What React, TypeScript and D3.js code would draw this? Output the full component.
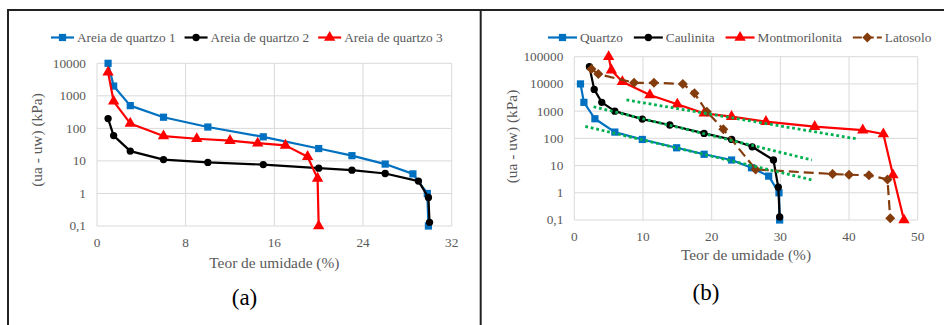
import React, { useEffect, useRef } from "react";
import * as d3 from "d3";

// ---- panel (a) data: moisture (%) vs suction (kPa)
const areia1 = [[1, 10000], [1.5, 2000], [3, 500], [6, 220], [10, 110], [15, 55], [20, 24], [23, 14.5], [26, 8], [28.5, 4], [29.8, 1], [29.9, 0.1]];
const areia2 = [[1, 200], [1.5, 60], [3, 20], [6, 11], [10, 9], [15, 7.7], [20, 6], [23, 5.2], [26, 4.1], [29, 2.4], [29.9, 0.75], [30, 0.13]];
const areia3 = [[1, 5300], [1.5, 680], [3, 142], [6, 58], [9, 48], [12, 42], [14.5, 35], [17, 30], [19, 13.5], [19.9, 2.9], [20, 0.1]];
const namesA = ["Areia de quartzo 1", "Areia de quartzo 2", "Areia de quartzo 3"];
const xTicksA = [0, 8, 16, 24, 32];
const yTicksA = [0.1, 1, 10, 100, 1000, 10000];

// ---- panel (b) data
const quartzo = [[0.9, 10000], [1.4, 2100], [3, 525], [5.9, 170], [9.9, 91], [14.9, 45], [18.9, 26], [22.9, 16], [25.8, 8.3], [28.3, 4.1], [29.8, 1], [29.9, 0.1]];
const caulinita = [[2.2, 43000], [2.9, 6300], [4, 2100], [5.9, 1000], [9.9, 510], [13.9, 310], [18.9, 152], [22.9, 91], [25.9, 49], [29, 16], [29.7, 1.6], [29.9, 0.13]];
const montmorilonita = [[5, 100000], [5.4, 32000], [7, 12000], [11, 3900], [15, 1780], [18.9, 830], [22.9, 630], [27.9, 410], [35, 270], [42, 200], [45, 145], [46.4, 4.5], [48, 0.1]];
const latosolo = [[2.5, 35000], [3.5, 23000], [8.7, 11000], [11.6, 11000], [15.8, 10000], [17.5, 4500], [19.3, 950], [21.7, 215], [26.4, 7.2], [37.6, 4.9], [40, 4.6], [42.9, 4.4], [45.6, 3.1], [46, 0.115]];
// exponential trend lines (start / end)
const trendMont = [[7.6, 2570], [41.3, 94]];
const trendCaul = [[2.8, 1450], [34.6, 16]];
const trendQuartzo = [[1.6, 275], [34.8, 2.9]];
const namesB = ["Quartzo", "Caulinita", "Montmorilonita", "Latosolo"];
const xTicksB = [0, 10, 20, 30, 40, 50];
const yTicksB = [0.1, 1, 10, 100, 1000, 10000, 100000];

const FONT = "'Liberation Serif', 'Times New Roman', serif";
const GREY = "#595959";

function markerPath(type: string) {
  if (type === "square") return d3.symbol(d3.symbolSquare, 52)();
  if (type === "circle") return d3.symbol(d3.symbolCircle, 42)();
  if (type === "triangle") return d3.symbol(d3.symbolTriangle, 56)();
  return "M0,-5L5,0L0,5L-5,0Z"; // diamond
}

function fmt(v: number) {
  return v < 1 ? String(v).replace(".", ",") : String(v);
}

function drawPanel(svg: any, cfg: any) {
  const x = d3.scaleLinear().domain(cfg.xDomain).range(cfg.xRange);
  const y = d3.scaleLog().domain(cfg.yDomain).range(cfg.yRange);
  const g = svg.append("g").style("font-family", FONT);

  // grid
  g.selectAll(".vg").data(cfg.xTicks).join("line")
    .attr("x1", d => x(d)).attr("x2", d => x(d))
    .attr("y1", cfg.yRange[0]).attr("y2", cfg.yRange[1])
    .attr("stroke", "#d9d9d9").attr("stroke-width", 1);
  g.selectAll(".hg").data(cfg.yTicks).join("line")
    .attr("x1", cfg.xRange[0]).attr("x2", cfg.xRange[1])
    .attr("y1", d => y(d)).attr("y2", d => y(d))
    .attr("stroke", "#d9d9d9").attr("stroke-width", 1);

  // tick labels
  g.selectAll(".xl").data(cfg.xTicks).join("text")
    .attr("x", d => x(d)).attr("y", cfg.yRange[0] + 21)
    .attr("text-anchor", "middle")
    .style("font-size", "13.3px").attr("fill", GREY)
    .text(d => d);
  g.selectAll(".yl").data(cfg.yTicks).join("text")
    .attr("x", cfg.xRange[0] - 11).attr("y", d => y(d)).attr("dy", "0.33em")
    .attr("text-anchor", "end")
    .style("font-size", "13.3px").attr("fill", GREY)
    .text(d => fmt(d));

  // axis titles
  g.append("text")
    .attr("x", (cfg.xRange[0] + cfg.xRange[1]) / 2).attr("y", cfg.xTitleY)
    .attr("text-anchor", "middle")
    .style("font-size", "15.4px").attr("fill", GREY)
    .text("Teor de umidade (%)");
  g.append("text")
    .attr("transform", `translate(${cfg.yTitleX},${cfg.yTitleY}) rotate(-90)`)
    .attr("text-anchor", "middle").attr("dy", "0.33em")
    .style("font-size", "15.4px").attr("fill", GREY)
    .text("(ua - uw) (kPa)");

  // caption
  g.append("text")
    .attr("x", cfg.captionX).attr("y", cfg.captionY)
    .attr("text-anchor", "middle")
    .style("font-size", "23px").attr("fill", "#000")
    .text(cfg.caption);

  const line = d3.line<number[]>().x(d => x(d[0])).y(d => y(d[1]));

  cfg.series.forEach((s: any) => {
    g.append("path").datum(s.data)
      .attr("d", line).attr("fill", "none")
      .attr("stroke", s.color).attr("stroke-width", 2.2)
      .attr("stroke-dasharray", s.dash || null)
      .attr("stroke-linejoin", "round");
    g.selectAll(null).data(s.data).join("path")
      .attr("d", markerPath(s.symbol))
      .attr("transform", d => `translate(${x(d[0])},${y(d[1])})`)
      .attr("fill", s.color);
  });

  (cfg.trends || []).forEach((t: number[][]) => {
    g.append("path").datum(t)
      .attr("d", line).attr("fill", "none")
      .attr("stroke", "#00b050").attr("stroke-width", 2.8)
      .attr("stroke-dasharray", "2.8,2.8");
  });

  // legend
  let lx = cfg.legendX;
  const ly = 37.5;
  cfg.series.forEach((s: any) => {
    const lg = g.append("g");
    lg.append("line")
      .attr("x1", lx).attr("x2", lx + cfg.legendLine)
      .attr("y1", ly).attr("y2", ly)
      .attr("stroke", s.color).attr("stroke-width", 2.2)
      .attr("stroke-dasharray", s.dash ? "9,3" : null);
    lg.append("path")
      .attr("d", markerPath(s.symbol))
      .attr("transform", `translate(${lx + cfg.legendLine / 2},${ly})`)
      .attr("fill", s.color);
    const t = lg.append("text")
      .attr("x", lx + cfg.legendLine + 3).attr("y", ly + 4.5)
      .style("font-size", "13.3px").attr("fill", GREY)
      .text(s.name);
    const w = (t.node() as SVGTextElement).getComputedTextLength();
    lx += cfg.legendLine + 3 + w + cfg.legendGap;
  });
}

export default function App() {
  const ref = useRef<SVGSVGElement>(null);

  useEffect(() => {
    const el = ref.current;
    if (!el) return;
    const svg = d3.select(el);
    svg.selectAll("*").remove();

    // table-like frame
    svg.append("line").attr("x1", 7).attr("x2", 944).attr("y1", 10).attr("y2", 10)
      .attr("stroke", "#222").attr("stroke-width", 2);
    svg.append("line").attr("x1", 8).attr("x2", 8).attr("y1", 9).attr("y2", 325)
      .attr("stroke", "#222").attr("stroke-width", 2);
    svg.append("line").attr("x1", 480.7).attr("x2", 480.7).attr("y1", 9).attr("y2", 325)
      .attr("stroke", "#222").attr("stroke-width", 2);

    drawPanel(svg, {
      xDomain: [0, 32], xRange: [97, 451.7],
      yDomain: [0.1, 10000], yRange: [226, 63.3],
      xTicks: xTicksA, yTicks: yTicksA,
      xTitleY: 268, yTitleX: 36.7, yTitleY: 140,
      caption: "(a)", captionX: 244.5, captionY: 305,
      legendX: 51, legendLine: 23, legendGap: 9,
      series: [
        { name: namesA[0], data: areia1, color: "#0070c0", symbol: "square" },
        { name: namesA[1], data: areia2, color: "#000000", symbol: "circle" },
        { name: namesA[2], data: areia3, color: "#ff0000", symbol: "triangle" },
      ],
    });

    drawPanel(svg, {
      xDomain: [0, 50], xRange: [574.3, 917.7],
      yDomain: [0.1, 100000], yRange: [220, 56.7],
      xTicks: xTicksB, yTicks: yTicksB,
      xTitleY: 260, yTitleX: 511.7, yTitleY: 136.5,
      caption: "(b)", captionX: 706, captionY: 300,
      legendX: 548, legendLine: 29, legendGap: 11,
      series: [
        { name: namesB[0], data: quartzo, color: "#0070c0", symbol: "square" },
        { name: namesB[1], data: caulinita, color: "#000000", symbol: "circle" },
        { name: namesB[2], data: montmorilonita, color: "#ff0000", symbol: "triangle" },
        { name: namesB[3], data: latosolo, color: "#843c0c", symbol: "diamond", dash: "10,5" },
      ],
      trends: [trendMont, trendCaul, trendQuartzo],
    });

    return () => {
      svg.selectAll("*").remove();
    };
  });

  return (
    <svg
      ref={ref}
      width={944}
      height={325}
      style={{ position: "absolute", left: 0, top: 0, background: "#fff" }}
    />
  );
}
